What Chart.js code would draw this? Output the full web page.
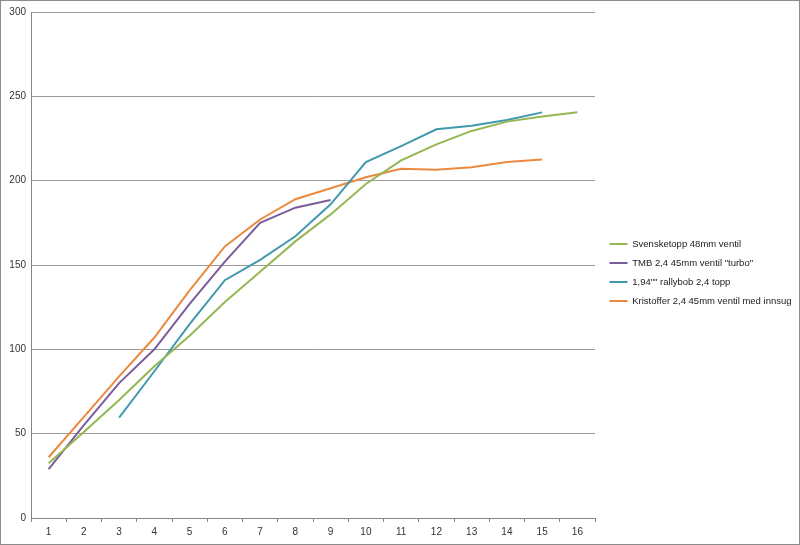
<!DOCTYPE html>
<html>
<head>
<meta charset="utf-8">
<script src="https://cdn.jsdelivr.net/npm/chart.js@4/dist/chart.umd.min.js"></script>
<style>
  html, body { margin: 0; padding: 0; background: #fff; }
  #frame { width: 800px; height: 545px; box-sizing: border-box; border: 1px solid #8c8c8c; }
  canvas { display: block; }
</style>
</head>
<body>
<div id="frame"><canvas id="chart" width="798" height="543"></canvas></div>
<script>
const labels = ['1', '2', '3', '4', '5', '6', '7', '8', '9', '10', '11', '12', '13', '14', '15', '16'];

const svensketopp = [32.5, 51, 70, 90, 108, 128, 146, 164, 180, 198, 212, 221.5, 229.5, 235, 238, 240.5];
const tmbTurbo = [29, 55, 80, 100, 127, 152, 175, 184, 188.5, null, null, null, null, null, null, null];
const rallybob = [null, null, 59.5, 87, 115, 141, 153, 167, 186, 211, 220.5, 230.5, 232.5, 236, 240.5, null];
const kristoffer = [36, 60, 84, 107, 135, 161, 177, 189, 195.5, 202, 207, 206.5, 208, 211, 212.5, null];

const seriesNames = [
  'Svensketopp 48mm ventil',
  'TMB 2,4 45mm ventil "turbo"',
  '1,94"" rallybob 2,4 topp',
  'Kristoffer 2,4 45mm ventil med innsug'
];
const seriesColors = ['#94b653', '#7a5e9c', '#4198af', '#eb8a3e'];

const yTicks = [0, 50, 100, 150, 200, 250, 300];

const font = { family: '"Liberation Sans", Arial, sans-serif', size: 10 };
const legendFont = { family: '"Liberation Sans", Arial, sans-serif', size: 9.5 };

function makeSet(i, data) {
  return {
    label: seriesNames[i],
    data,
    borderColor: seriesColors[i],
    backgroundColor: seriesColors[i],
    borderWidth: 2,
    pointRadius: 0,
    tension: 0,
    spanGaps: false
  };
}

// fixed legend width, then nudge it to where Excel put it
const legendPlace = {
  id: 'legendPlace',
  beforeInit(chart) {
    const fit = chart.legend.fit;
    chart.legend.fit = function () {
      fit.call(this);
      this.width = 204;
    };
  },
  afterLayout(chart) {
    const lg = chart.legend;
    lg.left += 5;
    lg.top -= 5;
    lg.bottom -= 5;
  }
};

new Chart(document.getElementById('chart'), {
  type: 'line',
  data: {
    labels,
    datasets: [
      makeSet(0, svensketopp),
      makeSet(1, tmbTurbo),
      makeSet(2, rallybob),
      makeSet(3, kristoffer)
    ]
  },
  plugins: [legendPlace],
  options: {
    responsive: false,
    animation: false,
    layout: { padding: { top: 10, right: 0, bottom: 0, left: 0 } },
    plugins: {
      tooltip: { enabled: false },
      legend: {
        position: 'right',
        labels: {
          font: legendFont,
          color: '#1a1a1a',
          boxWidth: 18,
          boxHeight: 2,
          padding: 9.5,
          generateLabels(chart) {
            return Chart.defaults.plugins.legend.labels.generateLabels(chart)
              .map((item) => ({ ...item, lineWidth: 0 }));
          }
        }
      }
    },
    scales: {
      x: {
        offset: true,
        afterFit: (scale) => { scale.height = 26; },
        grid: {
          offset: true,
          drawOnChartArea: false,
          drawTicks: true,
          tickLength: 4,
          color: '#868686'
        },
        border: { color: '#868686' },
        ticks: { font, color: '#333', padding: 4, maxRotation: 0 }
      },
      y: {
        min: 0,
        max: 300,
        afterFit: (scale) => { scale.width = 30; },
        afterBuildTicks: (scale) => { scale.ticks = yTicks.map((v) => ({ value: v })); },
        grid: { color: '#9a9a9a', drawTicks: false },
        border: { color: '#868686' },
        ticks: { font, color: '#333', padding: 5 }
      }
    }
  }
});
</script>
</body>
</html>
